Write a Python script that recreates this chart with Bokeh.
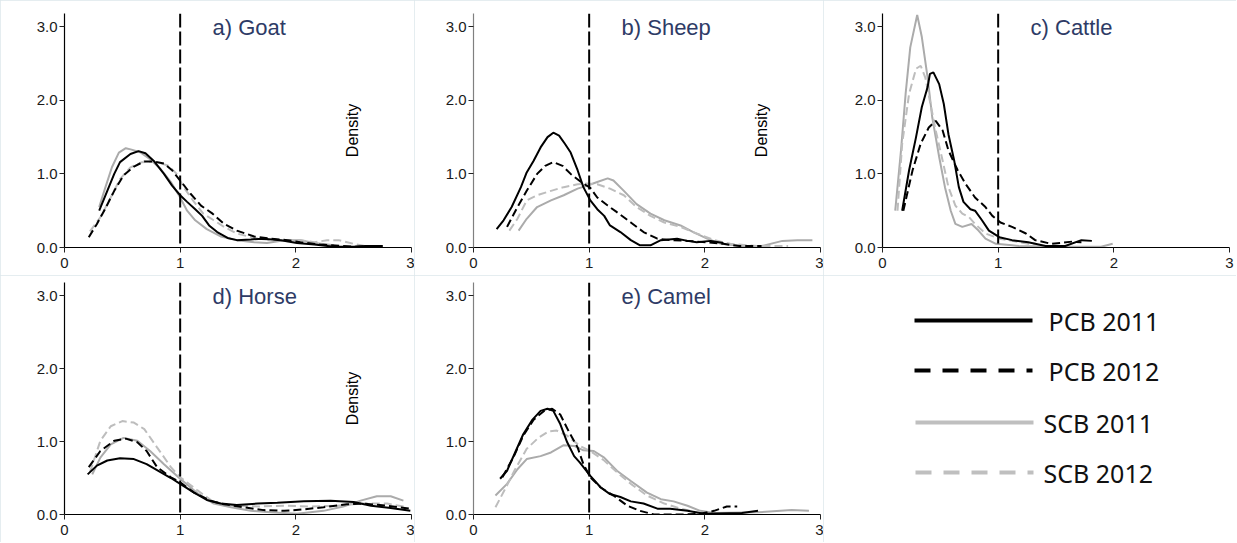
import math
from bokeh.plotting import figure
from bokeh.layouts import gridplot
from bokeh.models import Range1d, FixedTicker, Span
from bokeh.core.properties import value
from bokeh.embed import file_html
from bokeh.resources import INLINE

# ---------------- data ----------------
x_ticks = [0, 1, 2, 3]
x_tick_labels = ["0", "1", "2", "3"]
y_ticks = [0, 1, 2, 3]
y_tick_labels = ["0.0", "1.0", "2.0", "3.0"]
series_names = ["PCB 2011", "PCB 2012", "SCB 2011", "SCB 2012"]
panel_titles = ["a) Goat", "b) Sheep", "c) Cattle", "d) Horse", "e) Camel"]
density_label = "Density"
threshold = 1.0

# a) Goat
goat_pcb2011_x = [0.30, 0.37, 0.43, 0.48, 0.57, 0.64, 0.70, 0.77, 0.86, 0.93, 1.00, 1.06, 1.13, 1.19, 1.25, 1.32, 1.41, 1.49, 1.61, 1.72, 1.87, 2.01, 2.16, 2.33, 2.50, 2.60, 2.75]
goat_pcb2011_y = [0.50, 0.77, 1.00, 1.16, 1.27, 1.31, 1.28, 1.18, 1.00, 0.84, 0.71, 0.62, 0.52, 0.43, 0.30, 0.21, 0.13, 0.10, 0.11, 0.12, 0.10, 0.06, 0.04, 0.01, 0.01, 0.02, 0.02]
goat_pcb2012_x = [0.21, 0.28, 0.35, 0.43, 0.51, 0.60, 0.69, 0.77, 0.86, 0.93, 1.00, 1.09, 1.18, 1.28, 1.38, 1.49, 1.64, 1.78, 1.93, 2.04, 2.21, 2.50, 2.75]
goat_pcb2012_y = [0.14, 0.32, 0.52, 0.77, 0.98, 1.10, 1.17, 1.17, 1.14, 1.05, 0.91, 0.73, 0.57, 0.46, 0.32, 0.23, 0.15, 0.12, 0.10, 0.07, 0.04, 0.01, 0.02]
goat_scb2011_x = [0.30, 0.35, 0.41, 0.47, 0.53, 0.58, 0.66, 0.74, 0.83, 0.92, 1.00, 1.06, 1.13, 1.23, 1.35, 1.49, 1.64, 1.75, 1.90, 2.04, 2.16, 2.33]
goat_scb2011_y = [0.55, 0.80, 1.09, 1.29, 1.35, 1.33, 1.29, 1.20, 1.07, 0.89, 0.68, 0.50, 0.37, 0.25, 0.15, 0.10, 0.07, 0.06, 0.10, 0.10, 0.06, 0.03]
goat_scb2012_x = [0.22, 0.31, 0.40, 0.48, 0.57, 0.67, 0.76, 0.84, 0.90, 0.97, 1.03, 1.12, 1.20, 1.29, 1.38, 1.49, 1.64, 1.78, 1.93, 2.04, 2.16, 2.27, 2.37, 2.50, 2.60]
goat_scb2012_y = [0.22, 0.41, 0.68, 0.93, 1.09, 1.16, 1.17, 1.14, 1.11, 1.00, 0.82, 0.62, 0.46, 0.37, 0.28, 0.19, 0.13, 0.10, 0.10, 0.10, 0.07, 0.10, 0.10, 0.05, 0.02]

# b) Sheep
sheep_pcb2011_x = [0.20, 0.26, 0.33, 0.41, 0.46, 0.52, 0.58, 0.64, 0.69, 0.74, 0.79, 0.84, 0.90, 0.95, 1.01, 1.07, 1.13, 1.18, 1.27, 1.36, 1.44, 1.53, 1.62, 1.76, 1.85, 1.93, 2.05, 2.16]
sheep_pcb2011_y = [0.25, 0.37, 0.55, 0.82, 1.02, 1.18, 1.36, 1.50, 1.56, 1.52, 1.41, 1.29, 1.05, 0.82, 0.64, 0.52, 0.43, 0.30, 0.21, 0.10, 0.03, 0.03, 0.10, 0.12, 0.09, 0.07, 0.09, 0.06]
sheep_pcb2012_x = [0.29, 0.38, 0.46, 0.55, 0.62, 0.69, 0.77, 0.84, 0.93, 1.01, 1.07, 1.16, 1.24, 1.36, 1.47, 1.59, 1.70, 1.85, 2.02, 2.16, 2.30, 2.49]
sheep_pcb2012_y = [0.28, 0.55, 0.77, 1.00, 1.11, 1.16, 1.11, 1.00, 0.89, 0.81, 0.68, 0.57, 0.48, 0.34, 0.21, 0.12, 0.10, 0.09, 0.07, 0.05, 0.02, 0.02]
sheep_scb2011_x = [0.39, 0.46, 0.55, 0.67, 0.78, 0.90, 0.98, 1.07, 1.16, 1.21, 1.30, 1.41, 1.53, 1.65, 1.79, 1.90, 2.02, 2.14, 2.32, 2.49, 2.67, 2.80, 2.93]
sheep_scb2011_y = [0.23, 0.39, 0.55, 0.64, 0.71, 0.80, 0.84, 0.89, 0.94, 0.91, 0.77, 0.59, 0.46, 0.37, 0.30, 0.21, 0.12, 0.05, 0.02, 0.02, 0.09, 0.10, 0.10]
sheep_scb2012_x = [0.31, 0.38, 0.46, 0.55, 0.67, 0.78, 0.90, 0.98, 1.07, 1.18, 1.30, 1.41, 1.53, 1.65, 1.79, 1.93, 2.08, 2.22, 2.45, 2.72]
sheep_scb2012_y = [0.23, 0.39, 0.64, 0.71, 0.77, 0.82, 0.86, 0.87, 0.86, 0.80, 0.71, 0.55, 0.43, 0.34, 0.28, 0.19, 0.10, 0.05, 0.02, 0.02]

# c) Cattle
cattle_pcb2011_x = [0.17, 0.23, 0.29, 0.34, 0.39, 0.41, 0.44, 0.49, 0.53, 0.57, 0.62, 0.66, 0.70, 0.76, 0.80, 0.86, 0.92, 1.01, 1.12, 1.26, 1.41, 1.58, 1.72, 1.81]
cattle_pcb2011_y = [0.50, 1.05, 1.50, 1.91, 2.18, 2.36, 2.38, 2.22, 1.95, 1.54, 1.18, 0.82, 0.62, 0.52, 0.50, 0.37, 0.23, 0.14, 0.10, 0.07, 0.02, 0.02, 0.10, 0.09]
cattle_pcb2012_x = [0.18, 0.26, 0.33, 0.40, 0.46, 0.52, 0.57, 0.65, 0.72, 0.80, 0.89, 0.95, 1.02, 1.12, 1.24, 1.32, 1.46, 1.64, 1.72]
cattle_pcb2012_y = [0.50, 1.05, 1.41, 1.63, 1.72, 1.59, 1.32, 1.05, 0.86, 0.68, 0.55, 0.43, 0.34, 0.28, 0.19, 0.10, 0.05, 0.08, 0.07]
cattle_scb2011_x = [0.11, 0.16, 0.20, 0.24, 0.30, 0.34, 0.39, 0.43, 0.49, 0.54, 0.59, 0.63, 0.69, 0.77, 0.83, 0.89, 0.98, 1.12, 1.18, 1.50, 1.89, 1.99]
cattle_scb2011_y = [0.50, 1.32, 2.09, 2.72, 3.16, 2.86, 2.31, 1.77, 1.23, 0.82, 0.50, 0.32, 0.28, 0.32, 0.23, 0.12, 0.05, 0.03, 0.02, 0.01, 0.01, 0.05]
cattle_scb2012_x = [0.13, 0.17, 0.23, 0.29, 0.33, 0.37, 0.41, 0.46, 0.52, 0.57, 0.63, 0.69, 0.75, 0.80, 0.89, 1.01, 1.12, 1.26, 1.32]
cattle_scb2012_y = [0.50, 1.41, 2.09, 2.43, 2.47, 2.31, 1.99, 1.59, 1.18, 0.82, 0.57, 0.46, 0.41, 0.32, 0.19, 0.12, 0.09, 0.05, 0.05]

# d) Horse
horse_pcb2011_x = [0.20, 0.28, 0.37, 0.48, 0.60, 0.71, 0.83, 0.92, 1.00, 1.12, 1.23, 1.35, 1.49, 1.67, 1.84, 2.07, 2.30, 2.50, 2.65, 2.82, 2.99]
horse_pcb2011_y = [0.55, 0.67, 0.74, 0.77, 0.76, 0.69, 0.58, 0.50, 0.42, 0.30, 0.20, 0.15, 0.13, 0.15, 0.16, 0.18, 0.19, 0.17, 0.12, 0.09, 0.05]
horse_pcb2012_x = [0.21, 0.31, 0.43, 0.53, 0.63, 0.71, 0.80, 0.92, 1.00, 1.12, 1.26, 1.38, 1.55, 1.72, 1.90, 2.07, 2.24, 2.44, 2.59, 2.79, 2.99]
horse_pcb2012_y = [0.65, 0.87, 1.01, 1.04, 0.99, 0.87, 0.65, 0.51, 0.44, 0.30, 0.19, 0.14, 0.10, 0.06, 0.05, 0.07, 0.10, 0.14, 0.15, 0.12, 0.08]
horse_scb2011_x = [0.24, 0.31, 0.40, 0.51, 0.63, 0.74, 0.86, 1.00, 1.15, 1.29, 1.44, 1.61, 1.78, 2.01, 2.24, 2.41, 2.56, 2.70, 2.82, 2.93]
horse_scb2011_y = [0.55, 0.78, 0.96, 1.05, 1.01, 0.87, 0.69, 0.49, 0.29, 0.15, 0.10, 0.05, 0.03, 0.01, 0.05, 0.11, 0.19, 0.25, 0.25, 0.19]
horse_scb2012_x = [0.22, 0.31, 0.40, 0.50, 0.60, 0.69, 0.80, 0.92, 1.00, 1.15, 1.29, 1.46, 1.67, 1.90, 2.13, 2.36, 2.56, 2.79, 2.96]
horse_scb2012_y = [0.58, 1.01, 1.21, 1.28, 1.26, 1.17, 0.92, 0.65, 0.51, 0.33, 0.17, 0.12, 0.11, 0.12, 0.11, 0.12, 0.15, 0.15, 0.10]

# e) Camel
camel_pcb2011_x = [0.23, 0.29, 0.36, 0.43, 0.51, 0.58, 0.64, 0.69, 0.75, 0.81, 0.87, 0.92, 1.01, 1.10, 1.18, 1.27, 1.36, 1.47, 1.59, 1.70, 1.85, 1.99, 2.32, 2.46]
camel_pcb2011_y = [0.49, 0.60, 0.85, 1.10, 1.30, 1.42, 1.45, 1.42, 1.24, 0.99, 0.80, 0.71, 0.53, 0.37, 0.28, 0.24, 0.18, 0.15, 0.08, 0.08, 0.05, 0.01, 0.02, 0.05]
camel_pcb2012_x = [0.25, 0.35, 0.43, 0.52, 0.61, 0.68, 0.75, 0.82, 0.90, 0.95, 1.01, 1.10, 1.21, 1.33, 1.44, 1.56, 1.79, 1.96, 2.08, 2.19, 2.28]
camel_pcb2012_y = [0.51, 0.80, 1.08, 1.30, 1.42, 1.45, 1.37, 1.15, 0.92, 0.69, 0.51, 0.37, 0.26, 0.12, 0.05, 0.00, 0.00, 0.01, 0.05, 0.11, 0.11]
camel_scb2011_x = [0.19, 0.29, 0.38, 0.46, 0.58, 0.67, 0.78, 0.87, 0.95, 1.04, 1.13, 1.24, 1.36, 1.50, 1.62, 1.73, 1.85, 1.96, 2.08, 2.46, 2.75, 2.90]
camel_scb2011_y = [0.26, 0.42, 0.62, 0.76, 0.80, 0.85, 0.95, 0.94, 0.88, 0.87, 0.78, 0.60, 0.46, 0.30, 0.21, 0.18, 0.12, 0.05, 0.02, 0.03, 0.06, 0.05]
camel_scb2012_x = [0.19, 0.28, 0.36, 0.46, 0.56, 0.65, 0.72, 0.81, 0.92, 1.01, 1.13, 1.24, 1.36, 1.50, 1.65, 1.79, 1.93, 2.08, 2.32]
camel_scb2012_y = [0.10, 0.37, 0.62, 0.90, 1.05, 1.14, 1.15, 1.08, 0.94, 0.87, 0.74, 0.58, 0.42, 0.26, 0.15, 0.08, 0.03, 0.01, 0.00]

# ---------------- styles ----------------
STYLES = {
    "PCB 2011": dict(color="#000000", dash="solid"),
    "PCB 2012": dict(color="#000000", dash="8 4"),
    "SCB 2011": dict(color="#ABABAB", dash="solid"),
    "SCB 2012": dict(color="#BDBDBD", dash="8 4"),
}
TICK_FONT = "Liberation Sans"
FRAME_STYLE = {"outline": "1px solid #dde7eb", "outline-offset": "-1px"}


def make_panel(title, series, show_density, yaxis_color, left, plot_w, right,
               top, plot_h, bottom):
    p = figure(width=left + plot_w + right, height=top + plot_h + bottom,
               x_range=Range1d(0, 3), y_range=Range1d(0, 3.18),
               min_border_left=left, min_border_right=right,
               min_border_top=top, min_border_bottom=bottom,
               output_backend="svg", toolbar_location=None, tools="",
               styles=FRAME_STYLE)
    p.outline_line_color = None
    p.grid.visible = False
    p.background_fill_color = "white"
    p.border_fill_color = "white"

    xa = p.xaxis[0]
    xa.ticker = FixedTicker(ticks=x_ticks)
    xa.major_label_overrides = {t: l for t, l in zip(x_ticks, x_tick_labels)}
    ya = p.yaxis[0]
    ya.ticker = FixedTicker(ticks=y_ticks)
    ya.major_label_overrides = {t: l for t, l in zip(y_ticks, y_tick_labels)}
    for ax in (xa, ya):
        ax.major_label_text_font = TICK_FONT
        ax.major_label_text_font_size = "15px"
        ax.major_label_text_color = "#1a1a1a"
        ax.major_tick_in = 0
        ax.major_tick_out = 5
        ax.minor_tick_line_color = None
        ax.major_tick_line_color = "#222222"
        ax.axis_line_width = 1.2
    xa.axis_line_color = "#000000"
    ya.axis_line_color = yaxis_color
    xa.major_label_standoff = 5
    ya.major_label_standoff = 2

    # draw gray (SCB) first, black (PCB) on top
    for name in ["SCB 2011", "SCB 2012", "PCB 2011", "PCB 2012"]:
        xs, ys = series[name]
        st = STYLES[name]
        p.line(xs, ys, line_color=st["color"], line_width=2, line_dash=st["dash"])

    p.add_layout(Span(location=threshold, dimension="height", line_color="black",
                      line_width=2, line_dash="14 4"))

    p.text(x=[1.28], y=[2.99], text=[title], text_font=value("Liberation Sans"),
           text_font_size="22px", text_color="#2E3B66", text_align="left",
           text_baseline="middle")
    if show_density:
        p.text(x=[2.49], y=[1.59], text=[density_label], angle=math.pi / 2,
               text_font=value("Liberation Sans"), text_font_size="16px",
               text_color="#000000", text_align="center", text_baseline="middle")
    return p


ROW1 = dict(top=13, plot_h=234, bottom=28)
ROW2 = dict(top=7, plot_h=232, bottom=28)

pa = make_panel(panel_titles[0], {
    "PCB 2011": (goat_pcb2011_x, goat_pcb2011_y),
    "PCB 2012": (goat_pcb2012_x, goat_pcb2012_y),
    "SCB 2011": (goat_scb2011_x, goat_scb2011_y),
    "SCB 2012": (goat_scb2012_x, goat_scb2012_y)},
    True, "#000000", 64, 347, 3, **ROW1)
pb = make_panel(panel_titles[1], {
    "PCB 2011": (sheep_pcb2011_x, sheep_pcb2011_y),
    "PCB 2012": (sheep_pcb2012_x, sheep_pcb2012_y),
    "SCB 2011": (sheep_scb2011_x, sheep_scb2011_y),
    "SCB 2012": (sheep_scb2012_x, sheep_scb2012_y)},
    True, "#808080", 59, 347, 3, **ROW1)
pc = make_panel(panel_titles[2], {
    "PCB 2011": (cattle_pcb2011_x, cattle_pcb2011_y),
    "PCB 2012": (cattle_pcb2012_x, cattle_pcb2012_y),
    "SCB 2011": (cattle_scb2011_x, cattle_scb2011_y),
    "SCB 2012": (cattle_scb2012_x, cattle_scb2012_y)},
    False, "#000000", 59, 347, 7, **ROW1)
pd_ = make_panel(panel_titles[3], {
    "PCB 2011": (horse_pcb2011_x, horse_pcb2011_y),
    "PCB 2012": (horse_pcb2012_x, horse_pcb2012_y),
    "SCB 2011": (horse_scb2011_x, horse_scb2011_y),
    "SCB 2012": (horse_scb2012_x, horse_scb2012_y)},
    True, "#000000", 64, 347, 3, **ROW2)
pe = make_panel(panel_titles[4], {
    "PCB 2011": (camel_pcb2011_x, camel_pcb2011_y),
    "PCB 2012": (camel_pcb2012_x, camel_pcb2012_y),
    "SCB 2011": (camel_scb2011_x, camel_scb2011_y),
    "SCB 2012": (camel_scb2012_x, camel_scb2012_y)},
    False, "#808080", 59, 347, 3, **ROW2)

# legend panel: its frame is aligned with the grid (left 59, top 7), so the
# ranges are set so that one unit equals one canvas pixel (y measured from top)
L_LEFT, L_PLOT_W, L_RIGHT = 59, 347, 7
L_TOP, L_PLOT_H, L_BOTTOM = 7, 232, 28
pf = figure(width=L_LEFT + L_PLOT_W + L_RIGHT, height=L_TOP + L_PLOT_H + L_BOTTOM,
            x_range=Range1d(L_LEFT, L_LEFT + L_PLOT_W),
            y_range=Range1d(L_TOP + L_PLOT_H, L_TOP),
            x_axis_location=None, y_axis_location=None,
            min_border_left=L_LEFT, min_border_right=L_RIGHT,
            min_border_top=L_TOP, min_border_bottom=L_BOTTOM,
            output_backend="svg", toolbar_location=None, tools="",
            styles=FRAME_STYLE)
pf.outline_line_color = None
pf.grid.visible = False
row_y = [45, 95, 147, 197]
line_x0 = [91, 91, 92, 92]
line_x1 = [209, 209, 210, 210]
label_x = [225, 225, 220, 220]
for i, name in enumerate(series_names):
    st = STYLES[name]
    dash = "16 12" if st["dash"] != "solid" else "solid"
    col = st["color"] if name.startswith("PCB") else "#BFBFBF"
    pf.line([line_x0[i], line_x1[i]], [row_y[i], row_y[i]], line_color=col,
            line_width=4, line_dash=dash)
    pf.text(x=[label_x[i]], y=[row_y[i]], text=[name], text_font=value("Noto Sans"),
            text_font_size="25px", text_color="#111111", text_align="left",
            text_baseline="middle")

grid = gridplot([[pa, pb, pc], [pd_, pe, pf]], toolbar_location=None)

open("out.html", "w").write(file_html(grid, INLINE))
